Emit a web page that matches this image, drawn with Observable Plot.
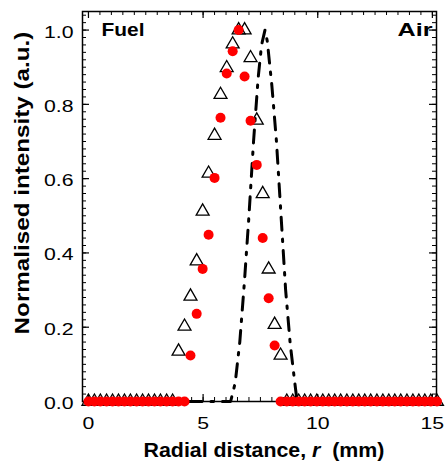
<!DOCTYPE html>
<html><head><meta charset="utf-8">
<script src="https://cdn.jsdelivr.net/npm/d3@7"></script>
<script src="https://cdn.jsdelivr.net/npm/@observablehq/plot@0.6"></script>
<style>
html,body{margin:0;padding:0;background:#fff;}
</style></head><body><div id="chart"></div>
<script>
// Radial positions of the measured samples (mm)
const radius = [0.00,0.26,0.52,0.79,1.05,1.31,1.57,1.83,2.10,2.36,2.62,2.88,3.14,3.41,3.67,
  3.93,4.19,4.45,4.72,4.98,5.24,5.50,5.76,6.03,6.29,6.55,6.81,7.07,7.34,7.60,7.86,8.12,8.38,
  8.65,8.91,9.17,9.43,9.69,9.96,10.22,10.48,10.74,11.00,11.27,11.53,11.79,12.05,12.31,12.58,
  12.84,13.10,13.36,13.62,13.89,14.15,14.41,14.67,14.93,15.20];
// Open triangles
const triValues = [0,0,0,0,0,0,0,0,0,0,0,0,0,0,0,
  0.135,0.202,0.283,0.378,0.512,0.614,0.716,0.826,0.898,0.962,1.000,1.000,0.925,0.757,0.559,0.356,0.207,0.124,
  0,0,0,0,0,0,0,0,0,0,0,0,0,0,0,0,0,0,0,0,0,0,0,0,0,0,0];
// Red filled circles
const redValues = [0,0,0,0,0,0,0,0,0,0,0,0,0,0,0,
  0,0,0.124,0.236,0.357,0.449,0.602,0.764,0.883,0.943,1.000,0.875,0.756,0.637,0.440,0.278,0.151,0,
  0,0,0,0,0,0,0,0,0,0,0,0,0,0,0,0,0,0,0,0,0,0,0,0,0,0,0];
// Dash-dot profile
const lineR = [0.00,6.20,6.40,6.60,6.80,7.00,7.20,7.40,7.55,7.70,7.80,8.00,8.20,8.40,8.60,8.80,9.00,9.10,15.20];
const lineV = [0.00,0.00,0.05,0.16,0.32,0.50,0.70,0.87,0.96,1.00,0.97,0.85,0.70,0.50,0.30,0.155,0.05,0.00,0.00];

const xTicks = [0, 5, 10, 15];
const xTickLabels = ["0", "5", "10", "15"];
const yTicks = [0, 0.2, 0.4, 0.6, 0.8, 1.0];
const yTickLabels = ["0.0", "0.2", "0.4", "0.6", "0.8", "1.0"];
const xTitle = "Radial distance, r  (mm)";
const yTitle = "Normalised intensity (a.u.)";
const leftNote = "Fuel";
const rightNote = "Air";

const W = 445, H = 469;
const mL = 82, mR = 9, mT = 11, mB = 68;
const frameH = H - mT - mB;
const frameW = W - mL - mR;
const xMinor = d3.range(0, 15.001, 0.5);
const yMinor = d3.range(0, 1.041, 0.02);

const triData = radius.map((r, i) => ({r, v: triValues[i]}));
const redData = radius.map((r, i) => ({r, v: redValues[i]}));
const lineData = lineR.map((r, i) => ({r, v: lineV[i]}));

const font = "'Liberation Sans', Arial, Helvetica, sans-serif";
const chart = Plot.plot({
  width: W, height: H,
  marginLeft: mL, marginRight: mR, marginTop: mT, marginBottom: mB,
  x: {domain: [-0.26, 15.18], axis: null},
  y: {domain: [0, 1.05], axis: null},
  style: {fontFamily: font, background: "white", color: "black", overflow: "visible"},
  marks: [
    // inward ticks on all four sides
    Plot.ruleX(xMinor, {x: d => d, insetBottom: frameH - 4, stroke: "black", strokeWidth: 1}),
    Plot.ruleX(xMinor, {x: d => d, insetTop: frameH - 4, stroke: "black", strokeWidth: 1}),
    Plot.ruleX(xTicks, {x: d => d, insetBottom: frameH - 7, stroke: "black", strokeWidth: 1.2}),
    Plot.ruleX(xTicks, {x: d => d, insetTop: frameH - 7, stroke: "black", strokeWidth: 1.2}),
    Plot.ruleY(yMinor, {y: d => d, insetRight: frameW - 4, stroke: "black", strokeWidth: 1}),
    Plot.ruleY(yMinor, {y: d => d, insetLeft: frameW - 4, stroke: "black", strokeWidth: 1}),
    Plot.ruleY(yTicks, {y: d => d, insetRight: frameW - 7, stroke: "black", strokeWidth: 1.2}),
    Plot.ruleY(yTicks, {y: d => d, insetLeft: frameW - 7, stroke: "black", strokeWidth: 1.2}),
    Plot.frame({stroke: "black", strokeWidth: 1.5}),
    // data
    Plot.line(lineData, {x: "r", y: "v", stroke: "black", strokeWidth: 3,
      strokeDasharray: "13,9,2.5,9", curve: "linear"}),
    Plot.dot(triData, {x: "r", y: "v", symbol: "triangle", r: 4.8, stroke: "black",
      strokeWidth: 1.3, fill: "none"}),
    Plot.dot(redData, {x: "r", y: "v", r: 5, fill: "#ff0000", stroke: "none"}),
    // tick labels
    Plot.text(xTicks, {x: d => d, text: (d, i) => xTickLabels[i], frameAnchor: "bottom",
      dy: 15, lineAnchor: "top", textAnchor: "middle", fontSize: 17}),
    Plot.text(yTicks, {y: d => d, text: (d, i) => yTickLabels[i], frameAnchor: "left",
      dx: -9, dy: 2, textAnchor: "end", lineAnchor: "middle", fontSize: 17}),
    // notes
    Plot.text([leftNote], {text: d => d, frameAnchor: "top-left", dx: 19, dy: 12,
      lineAnchor: "top", textAnchor: "start", fontSize: 17.5, fontWeight: "bold"}),
    Plot.text([rightNote], {text: d => d, frameAnchor: "top-right", dx: -4, dy: 12,
      lineAnchor: "top", textAnchor: "end", fontSize: 17.5, fontWeight: "bold"}),
    // axis titles
    Plot.text([xTitle], {text: d => d, frameAnchor: "bottom", dx: 4.5, dy: 55,
      lineAnchor: "bottom", textAnchor: "middle", fontSize: 20, fontWeight: "bold"}),
    Plot.text([yTitle], {text: d => d, frameAnchor: "left", dx: -60, dy: -23.5, rotate: -90,
      lineAnchor: "middle", textAnchor: "middle", fontSize: 20, fontWeight: "bold"})
  ]
});
document.getElementById("chart").appendChild(chart);

const allTexts = [...chart.querySelectorAll("text")];
const byContent = s => allTexts.filter(t => t.textContent === s);

// italic r in x title
byContent(xTitle).forEach(t => {
  t.style.whiteSpace = "pre";
  const target = t.querySelector("tspan") || t;
  target.innerHTML = 'Radial distance, <tspan font-style="italic">r</tspan>  (mm)';
});

// widen glyphs along the text direction (scale about the anchor point)
function stretch(els, f, fixed) {
  els.forEach(t => {
    const L = t.getComputedTextLength();
    if (!L) return;
    const k = fixed ? fixed / L : f;
    const x0 = parseFloat(t.getAttribute("x")) || 0;
    const tr = t.getAttribute("transform") || "";
    t.setAttribute("transform", `${tr} translate(${x0},0) scale(${k},1) translate(${-x0},0)`);
  });
}
xTickLabels.forEach(s => stretch(byContent(s), 1.25));
yTickLabels.forEach(s => stretch(byContent(s), 1.25));
stretch(byContent(leftNote), 0, 43);
stretch(byContent(rightNote), 0, 35);
stretch(byContent(xTitle), 0, 241);
stretch(byContent(yTitle), 0, 303);
</script></body></html>
